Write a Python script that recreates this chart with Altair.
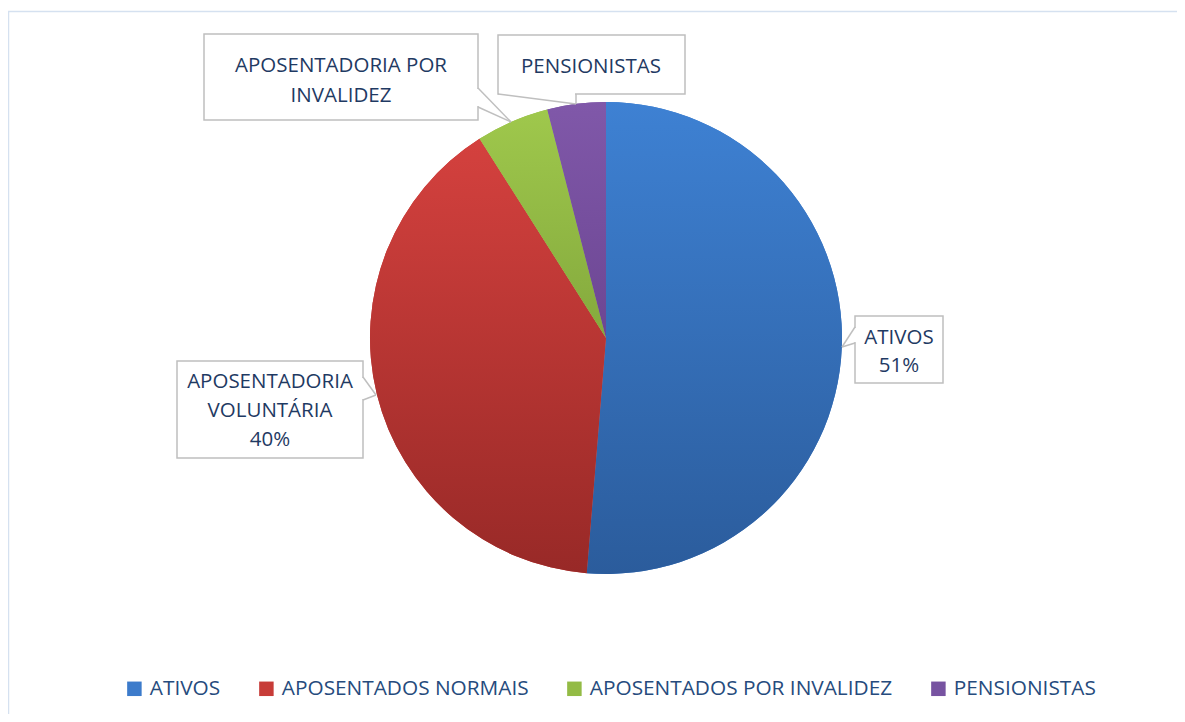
import altair as alt
import pandas as pd

# ---------------- data ----------------
categorias = ["ATIVOS", "APOSENTADOS NORMAIS", "APOSENTADOS POR INVALIDEZ", "PENSIONISTAS"]
valores = [51.3, 39.7, 5.0, 4.0]
ordem = [0, 1, 2, 3]
rotulos = [["ATIVOS"], ["APOSENTADORIA", "VOLUNTÁRIA"], ["APOSENTADORIA POR", "INVALIDEZ"], ["PENSIONISTAS"]]
mostrar_pct = [True, True, False, False]

# ---------------- styles ----------------
cores_legenda = ["#3c7bcb", "#c73c38", "#93bb45", "#7753a1"]
grad_topo = ["#3e81d3", "#d4413e", "#9fc84c", "#8058a9"]
grad_base = ["#2b5c9c", "#982927", "#84a93d", "#6c4693"]
COR_TEXTO = "#1f3a63"
COR_LEGENDA = "#264b7d"
COR_BORDA = "#bfbfbf"
FONTE = "Open Sans"
TAM = 20.5
TAM_LEG = 20.8

W, H = 1169, 706
CX, CY, R = 598, 330, 236  # pie centre/radius (view coords)

df = pd.DataFrame({"categoria": categorias, "valor": valores, "ordem": ordem})
total = sum(valores)

base = alt.Chart(df).transform_window(
    fim="sum(valor)", sort=[alt.SortField("ordem", order="ascending")], frame=[None, 0]
).transform_calculate(inicio="datum.fim - datum.valor")

theta = alt.Theta("inicio:Q", scale=alt.Scale(domain=[0, total]))
theta2 = alt.Theta2("fim:Q")

pie_legend = base.mark_arc(radius=R).encode(
    theta=theta, theta2=theta2,
    x=alt.value(CX), y=alt.value(CY),
    color=alt.Color(
        "categoria:N",
        scale=alt.Scale(domain=categorias, range=cores_legenda),
        legend=alt.Legend(
            orient="none", legendX=116, legendY=670, direction="horizontal", columns=4,
            title=None, symbolType="square", symbolSize=210, symbolStrokeWidth=0,
            labelFont=FONTE, labelFontSize=TAM_LEG, labelColor=COR_LEGENDA, labelLimit=600,
            labelOffset=5, columnPadding=35, padding=0,
        ),
    ),
)

layers = []
# frame
layers.append(
    alt.Chart(df).mark_rect(fill=None, stroke="#d5e1f0", strokeWidth=1.5).encode(
        x=alt.value(0.5), y=alt.value(3.5), x2=alt.value(2000), y2=alt.value(2000)
    ).transform_filter(alt.datum.ordem == 0)
)
layers.append(pie_legend)

for i in range(len(categorias)):
    grad = alt.LinearGradient(
        gradient="linear", x1=0, x2=0, y1=0, y2=1,
        stops=[alt.GradientStop(color=grad_topo[i], offset=0),
               alt.GradientStop(color=grad_base[i], offset=1)],
    )
    layers.append(
        base.transform_filter(alt.datum.ordem == i).mark_arc(radius=R, color=grad).encode(
            theta=theta, theta2=theta2, x=alt.value(CX), y=alt.value(CY)
        )
    )

# ---------------- callouts (layout, page coords - 8) ----------------
O = 8
caixas = [  # x1, y1, x2, y2 (page coords)
    (855, 316, 943, 383),
    (177, 361, 363, 458),
    (204, 34, 478, 120),
    (498, 35, 685, 94),
]
lacunas = [
    (855, 328, 855, 342),
    (363, 378, 363, 399),
    (478, 89, 478, 106),
    (499, 94, 575, 94),
]
ponteiros = [
    [(855, 327, 842, 347), (842, 347, 855, 343)],
    [(363, 377, 376, 395), (376, 395, 363, 400)],
    [(478, 88, 511, 122), (511, 122, 478, 107)],
    [(498, 94, 576, 104), (576, 104, 576, 94)],
]
# centre x, y of first line, line height
textos_pos = [(899, 338, 28), (270, 382, 29), (341, 65.5, 30), (591, 67)]

one = alt.Chart(df).transform_filter(alt.datum.ordem == 0)
for i in range(len(categorias)):
    x1, y1, x2, y2 = caixas[i]
    layers.append(one.mark_rect(fill="white", stroke=COR_BORDA, strokeWidth=1.5).encode(
        x=alt.value(x1 - O), y=alt.value(y1 - O), x2=alt.value(x2 - O), y2=alt.value(y2 - O)))
    a, b, c, d = lacunas[i]
    layers.append(one.mark_rule(color="white", strokeWidth=3).encode(
        x=alt.value(a - O), y=alt.value(b - O), x2=alt.value(c - O), y2=alt.value(d - O)))
    for (a, b, c, d) in ponteiros[i]:
        layers.append(one.mark_rule(color=COR_BORDA, strokeWidth=1.5).encode(
            x=alt.value(a - O), y=alt.value(b - O), x2=alt.value(c - O), y2=alt.value(d - O)))
    linhas = list(rotulos[i])
    if mostrar_pct[i]:
        linhas.append(f"{round(100 * valores[i] / total)}%")
    pos = textos_pos[i]
    tx, ty = pos[0], pos[1]
    lh = pos[2] if len(pos) > 2 else 29
    layers.append(one.mark_text(
        text=linhas, font=FONTE, fontSize=TAM, color=COR_TEXTO, align="center",
        baseline="middle", lineHeight=lh,
    ).encode(x=alt.value(tx - O), y=alt.value(ty - O)))

chart = alt.layer(*layers).properties(
    width=W, height=H, padding=0, autosize=alt.AutoSizeParams(type="none")
).configure_view(stroke=None)

chart.save("out.html", embed_options={"renderer": "svg", "actions": False})
